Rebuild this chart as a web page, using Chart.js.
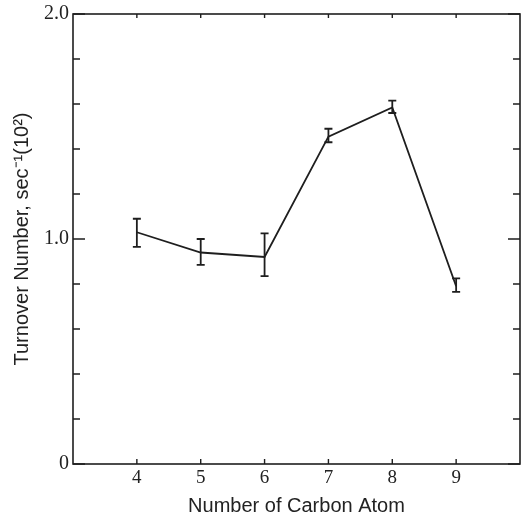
<!DOCTYPE html>
<html><head><meta charset="utf-8">
<script src="https://cdn.jsdelivr.net/npm/chart.js@4"></script>
<style>html,body{margin:0;padding:0;background:#fff}#wrap{width:522px;height:518px}</style>
</head><body><div id="wrap"><canvas id="c" width="522" height="518"></canvas></div>
<script>
const carbonAtoms = [4, 5, 6, 7, 8, 9];
const turnover = [1.03, 0.94, 0.92, 1.455, 1.585, 0.79];
const errLow = [0.965, 0.885, 0.835, 1.43, 1.56, 0.765];
const errHigh = [1.09, 1.0, 1.025, 1.49, 1.615, 0.825];
const yLabels = {0: '0', 1: '1.0', 2: '2.0'};
const xLabelValues = [4, 5, 6, 7, 8, 9];

const ink = '#1e1e1e';

const decor = {
  id: 'decor',
  afterDatasetsDraw(chart) {
    const ctx = chart.ctx, a = chart.chartArea;
    const xs = chart.scales.x, ys = chart.scales.y;
    ctx.save();
    ctx.strokeStyle = ink;
    // error bars
    ctx.lineWidth = 1.8;
    carbonAtoms.forEach((c, i) => {
      const px = xs.getPixelForValue(c);
      const lo = ys.getPixelForValue(errLow[i]);
      const hi = ys.getPixelForValue(errHigh[i]);
      ctx.beginPath();
      ctx.moveTo(px, lo); ctx.lineTo(px, hi);
      ctx.moveTo(px - 4, lo); ctx.lineTo(px + 4, lo);
      ctx.moveTo(px - 4, hi); ctx.lineTo(px + 4, hi);
      ctx.stroke();
    });
    // frame
    ctx.lineWidth = 1.6;
    ctx.strokeRect(a.left, a.top, a.right - a.left, a.bottom - a.top);
    // y ticks (inward, left and right)
    ctx.lineWidth = 1.4;
    ys.ticks.forEach(t => {
      const py = ys.getPixelForValue(t.value);
      const major = Math.abs(t.value - Math.round(t.value)) < 1e-6;
      const len = major ? 12 : 7;
      ctx.beginPath();
      ctx.moveTo(a.left, py); ctx.lineTo(a.left + len, py);
      ctx.moveTo(a.right, py); ctx.lineTo(a.right - len, py);
      ctx.stroke();
    });
    // x ticks (inward, bottom and top)
    xLabelValues.forEach(v => {
      const px = xs.getPixelForValue(v);
      ctx.beginPath();
      ctx.moveTo(px, a.bottom); ctx.lineTo(px, a.bottom - 5);
      ctx.moveTo(px, a.top); ctx.lineTo(px, a.top + 4);
      ctx.stroke();
    });
    ctx.restore();
  }
};

new Chart(document.getElementById('c'), {
  type: 'line',
  data: {
    datasets: [{
      data: carbonAtoms.map((c, i) => ({x: c, y: turnover[i]})),
      borderColor: ink,
      borderWidth: 1.8,
      pointRadius: 0,
      tension: 0,
      fill: false
    }]
  },
  options: {
    responsive: false,
    animation: false,
    layout: {padding: {top: 14, right: 2, left: 0, bottom: 0}},
    plugins: {legend: {display: false}, tooltip: {enabled: false}},
    scales: {
      x: {
        type: 'linear', min: 3, max: 10,
        grid: {display: false, drawTicks: false},
        border: {display: false},
        afterFit: s => { s.height = 54; s.paddingRight = 0; s.paddingLeft = 0; },
        ticks: {
          stepSize: 1, autoSkip: false, maxRotation: 0, padding: 3,
          color: '#222', font: {family: 'Liberation Serif', size: 19},
          callback: v => xLabelValues.includes(v) ? String(v) : ''
        },
        title: {display: true, text: 'Number of Carbon Atom', color: '#222',
          font: {family: 'Liberation Sans', size: 20}, padding: {top: 0, bottom: 0}}
      },
      y: {
        min: 0, max: 2,
        grid: {display: false, drawTicks: false},
        border: {display: false},
        afterFit: s => { s.width = 73; s.paddingTop = 0; s.paddingBottom = 0; },
        ticks: {
          stepSize: 0.2, autoSkip: false, padding: 4,
          color: '#222', font: {family: 'Liberation Serif', size: 20},
          callback: v => {
            const r = Math.round(v * 10) / 10;
            return (r === 0 || r === 1 || r === 2) ? yLabels[r] : '';
          }
        },
        title: {display: true, text: 'Turnover Number, sec\u207B\u00B9(10\u00B2)', color: '#222',
          font: {family: 'Liberation Sans', size: 20}, padding: {top: 10, bottom: 0}}
      }
    }
  },
  plugins: [decor]
});
</script></body></html>
